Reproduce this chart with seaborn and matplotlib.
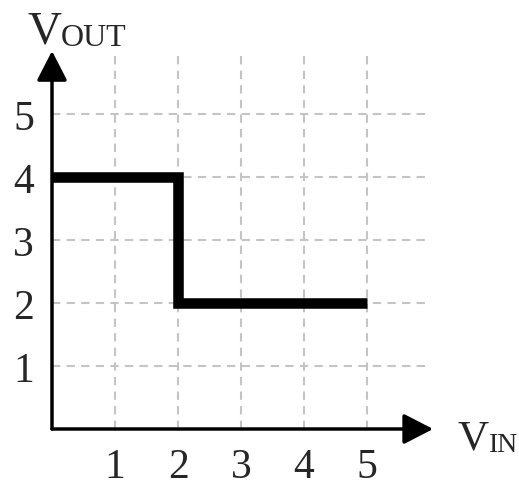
import matplotlib
matplotlib.use("Agg")
import matplotlib.pyplot as plt
import seaborn as sns
import pandas as pd
from matplotlib.patches import FancyArrowPatch

# data
vin = [0, 2, 2, 5]
vout = [4, 4, 2, 2]
ticks = [1, 2, 3, 4, 5]
grid_max = 6

sns.set_theme(style="white")
plt.rcParams['font.family'] = ['Liberation Serif', 'DejaVu Serif']

fig = plt.figure(figsize=(5.19, 4.85), dpi=100)
ax = fig.add_axes([52/519, (485-430)/485, 378/519, 378/485])
ax.set_xlim(0, grid_max)
ax.set_ylim(0, grid_max)
for s in ax.spines.values():
    s.set_visible(False)

gcol = "#c4c4c4"
for t in ticks:
    ax.plot([t, t], [0, grid_max], color=gcol, lw=1.5, ls=(0, (4, 3)), zorder=1, clip_on=False)
    ax.plot([0, grid_max], [t, t], color=gcol, lw=1.5, ls=(0, (4, 3)), zorder=1, clip_on=False)

df = pd.DataFrame({"vin": vin, "vout": vout})
sns.lineplot(data=df, x="vin", y="vout", sort=False, estimator=None, color="black",
             lw=7.6, ax=ax, zorder=3, solid_joinstyle="miter", solid_capstyle="butt")

# axes with arrows
for start, end in [((0, 0), (6.05, 0)), ((0, 0), (0, 6.0))]:
    arr = FancyArrowPatch(start, end, arrowstyle="-|>,head_length=0.7,head_width=0.36",
                          mutation_scale=26, color="black",
                          lw=2.5, shrinkA=0, shrinkB=0, zorder=4, clip_on=False)
    ax.add_patch(arr)

ax.set_xticks(ticks)
ax.set_yticks(ticks)
ax.set_xticklabels([str(t) for t in ticks], fontsize=30)
ax.set_yticklabels([str(t) for t in ticks], fontsize=30)
ax.tick_params(axis="x", length=0, pad=13)
ax.tick_params(axis="y", length=0, pad=13)
ax.set_xlabel("")
ax.set_ylabel("")

vt = fig.text(27/519, 1 - 44/485, "V", fontsize=34, ha="left", va="baseline")
ax.annotate("OUT", xy=(1, 0), xycoords=vt, xytext=(0, 1), textcoords="offset points",
            fontsize=23, ha="left", va="bottom")
vi = fig.text(458/519, 1 - 450/485, "V", fontsize=31, ha="left", va="baseline")
ax.annotate("IN", xy=(1, 0), xycoords=vi, xytext=(0, 1), textcoords="offset points",
            fontsize=20, ha="left", va="bottom")

fig.savefig("out.png", dpi=100)
